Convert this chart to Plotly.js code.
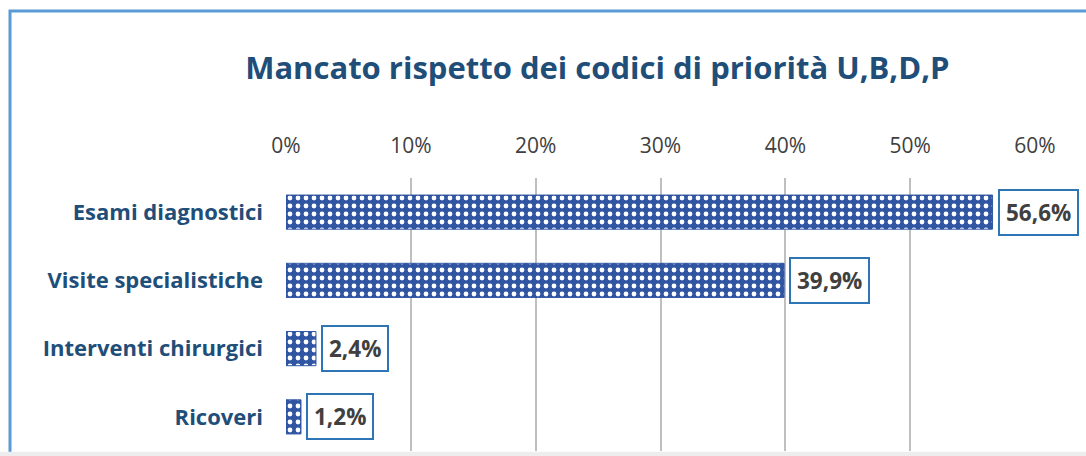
<!DOCTYPE html>
<html>
<head>
<meta charset="utf-8">
<script src="https://cdn.plot.ly/plotly-3.0.1.min.js"></script>
<style>html,body{margin:0;padding:0;background:#fff;}#chart{width:1086px;height:456px;}</style>
</head>
<body>
<div id="chart"></div>
<script>
const categories = ["Esami diagnostici", "Visite specialistiche", "Interventi chirurgici", "Ricoveri"];
const values = [0.566, 0.399, 0.024, 0.012];
const valueLabels = ["56,6%", "39,9%", "2,4%", "1,2%"];
const tickValues = [0, 0.1, 0.2, 0.3, 0.4, 0.5, 0.6];
const tickLabels = ["0%", "10%", "20%", "30%", "40%", "50%", "60%"];
const titleText = "Mancato rispetto dei codici di priorità U,B,D,P";

const blue = "#2F55A3";
const font = "Open Sans, Lato, sans-serif";

const trace = {
  type: "bar",
  orientation: "h",
  x: values,
  y: categories,
  width: 0.5,
  marker: {
    color: blue,
    line: {color: blue, width: 1},
    pattern: {shape: ".", fgcolor: "#ffffff", bgcolor: blue, size: 8, solidity: 0.28, fillmode: "replace"}
  },
  hoverinfo: "skip"
};

const annotations = categories.map((c, i) => ({
  x: values[i], y: c, xref: "x", yref: "y",
  text: "<b>" + valueLabels[i] + "</b>",
  showarrow: false, xanchor: "left", xshift: 5,
  font: {family: font, size: 22.5, color: "#404040"},
  bgcolor: "#ffffff", bordercolor: "#2E75B6", borderwidth: 2, borderpad: 6
}));

const layout = {
  width: 1086, height: 456,
  margin: {l: 286, r: 51, t: 178, b: 5},
  paper_bgcolor: "#ffffff", plot_bgcolor: "#ffffff",
  separators: ",.",
  showlegend: false,
  title: {text: "<b>" + titleText + "</b>", x: 0.55, xanchor: "center", y: 0.85, yanchor: "middle",
          font: {family: font, size: 31, color: "#1F4E79"}},
  xaxis: {
    side: "top", range: [0, 0.6], tickvals: tickValues, ticktext: tickLabels,
    showgrid: true, gridcolor: "#BFBFBF", gridwidth: 2, zeroline: false,
    showline: false, ticks: "", ticklabelstandoff: 20,
    tickfont: {family: font, size: 21, color: "#404040"}, fixedrange: true
  },
  yaxis: {
    autorange: "reversed", showgrid: false, zeroline: false, showline: false,
    ticks: "", ticklabelstandoff: 22,
    tickfont: {family: font, size: 22, color: "#1F4E79", weight: "bold"}, fixedrange: true
  },
  shapes: [
    {type: "rect", xref: "paper", yref: "paper", xsizemode: "pixel", ysizemode: "pixel",
     xanchor: 0, yanchor: 1, x0: -276, x1: 900, y0: 167, y1: -400, layer: "below",
     line: {color: "#5B9BD5", width: 3}, fillcolor: "rgba(0,0,0,0)"},
    {type: "rect", xref: "paper", yref: "paper", x0: -0.4, x1: 1.1, y0: -0.003, y1: -0.1,
     line: {width: 0}, fillcolor: "#EDEDED", layer: "above"}
  ],
  annotations: annotations
};

Plotly.newPlot("chart", [trace], layout, {displayModeBar: false, staticPlot: true});
</script>
</body>
</html>
